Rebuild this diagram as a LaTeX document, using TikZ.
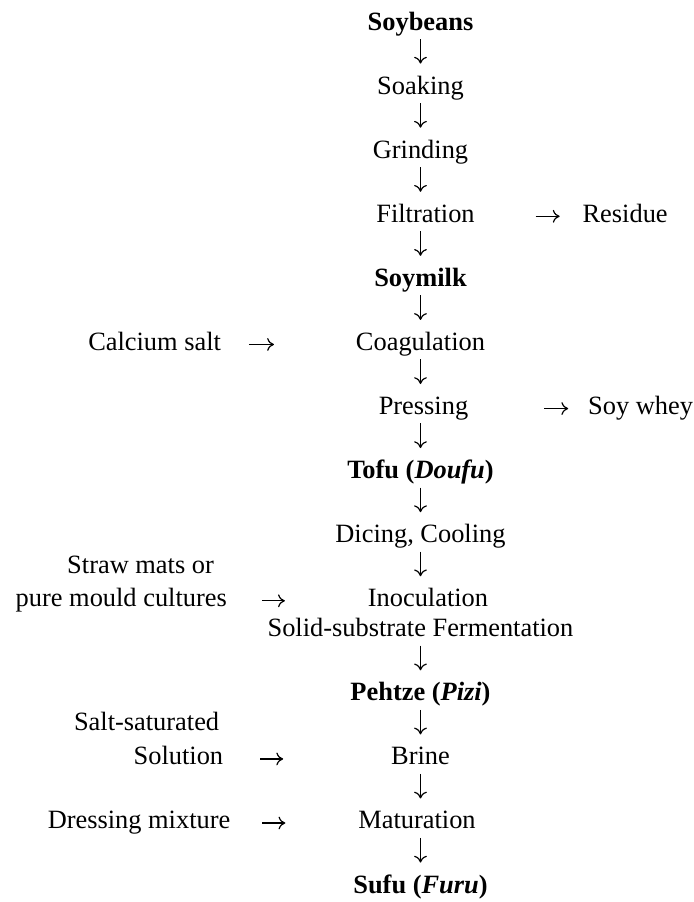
\documentclass[tikz,border=0pt]{standalone}
\usepackage{fontspec}
\setmainfont{Liberation Serif}
\usepackage{tikz}
\usetikzlibrary{arrows.meta,positioning}
\tikzset{
  stage/.style={inner sep=0pt, outer sep=0pt, font=\fontsize{13.2pt}{16pt}\selectfont,
                text height=9.24pt, text depth=3.3pt, text=black},
  key/.style={stage, font=\fontsize{13.2pt}{16pt}\selectfont\bfseries},
  dn/.style={-{To[length=3.4pt,width=6.4pt]}, line width=0.6pt,
             shorten <=1.2pt, shorten >=6pt},
  rt/.style={-{To[length=3.4pt,width=6.4pt]}, line width=0.6pt},
}
\begin{document}
\begin{tikzpicture}[node distance=19.5pt]
    \useasboundingbox (-210.25pt,12.03pt) rectangle (136.25pt,-438.97pt);
    % main line
    \node[key] (soy) {Soybeans};
    \node[stage, below=of soy] (soak) {Soaking};
    \node[stage, below=of soak] (grind) {Grinding};
    \node[stage, below=of grind, xshift=2.5pt] (filt) {Filtration};
    \node[key, below=of filt, xshift=-2.5pt] (milk) {Soymilk};
    \node[stage, below=of milk] (coag) {Coagulation};
    \node[stage, below=of coag, xshift=1.5pt] (press) {Pressing};
    \node[key, below=of press, xshift=-1.5pt] (tofu) {Tofu (\textit{Doufu})};
    \node[stage, below=of tofu] (dice) {Dicing, Cooling};
    \node[stage, below=of dice, xshift=3.75pt] (inoc) {Inoculation};
    \node[stage, below=2.46pt of inoc, xshift=-3.75pt] (ssf) {Solid-substrate Fermentation};
    \node[key, below=of ssf] (peh) {Pehtze (\textit{Pizi})};
    \node[stage, below=of peh] (brine) {Brine};
    \node[stage, below=of brine, xshift=-1.75pt] (mat) {Maturation};
    \node[key, below=of mat, xshift=1.75pt] (sufu) {Sufu (\textit{Furu})};
    % side inputs and outputs
    \node[stage, right=54pt of filt] (res) {Residue};
    \node[stage, left=67.5pt of coag] (ca) {Calcium salt};
    \node[stage, right=60pt of press] (whey) {Soy whey};
    \node[stage, left=70.5pt of inoc] (mould) {pure mould cultures};
    \node[stage, above=3.96pt of mould.north east, anchor=south east, xshift=-6.5pt] (straw) {Straw mats or};
    \node[stage, left=84pt of brine] (soln) {Solution};
    \node[stage, above=4.46pt of soln.north east, anchor=south east, xshift=-2pt] (salt) {Salt-saturated};
    \node[stage, left=64pt of mat] (dress) {Dressing mixture};
    % arrows
    \draw[dn] (soy) -- (soak); \draw[dn] (soak) -- (grind);
    \draw[dn] (grind.south) -- (grind.south |- filt.north);
    \draw[dn] (milk.north |- filt.south) -- (milk.north);
    \draw[dn] (milk) -- (coag);
    \draw[dn] (coag.south) -- (coag.south |- press.north);
    \draw[dn] (tofu.north |- press.south) -- (tofu.north);
    \draw[dn] (tofu) -- (dice);
    \draw[dn] (dice.south) -- (dice.south |- inoc.north);
    \draw[dn] (ssf) -- (peh); \draw[dn] (peh) -- (brine);
    \draw[dn] (brine.south) -- (brine.south |- mat.north);
    \draw[dn] (sufu.north |- mat.south) -- (sufu.north);
    \draw[rt, shorten <=30.5pt, shorten >=11.5pt] (filt) -- (res);
    \draw[rt, shorten <=14pt, shorten >=41pt] (ca) -- (coag);
    \draw[rt, shorten <=38pt, shorten >=10pt] (press) -- (whey);
    \draw[rt, shorten <=17.5pt, shorten >=41.5pt] (mould) -- (inoc);
    \draw[rt, shorten <=18.5pt, shorten >=54pt] (soln) -- (brine);
    \draw[rt, shorten <=16pt, shorten >=36.5pt] (dress) -- (mat);
\end{tikzpicture}
\end{document}
